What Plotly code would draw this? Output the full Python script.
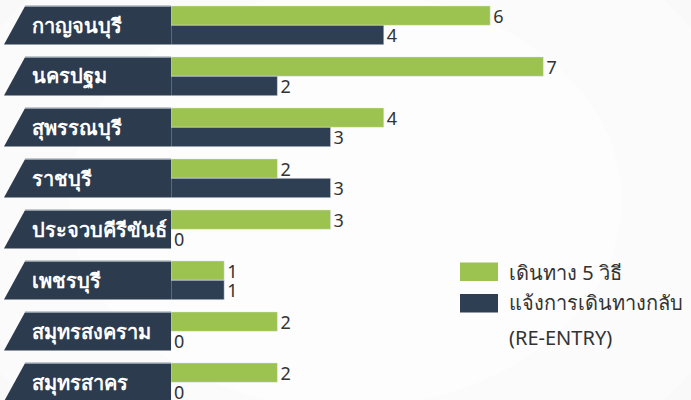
import plotly.graph_objects as go

provinces = ["กาญจนบุรี", "นครปฐม", "สุพรรณบุรี", "ราชบุรี",
             "ประจวบคีรีขันธ์", "เพชรบุรี", "สมุทรสงคราม", "สมุทรสาคร"]
travel_5 = [6, 7, 4, 2, 3, 1, 2, 2]
re_entry = [4, 2, 3, 3, 0, 1, 0, 0]
series_names = ["เดินทาง 5 วิธี", "แจ้งการเดินทางกลับ<br>(RE-ENTRY)"]

W, H = 691, 400
GREEN = "#9cc24f"
DARK = "#2e3f53"
FONT = "Noto Sans, Open Sans, sans-serif"

def px(x):
    return x / W

def py(y):
    return 1 - y / H

fig = go.Figure()
fig.add_trace(go.Bar(y=provinces, x=travel_5, orientation="h", name=series_names[0],
                     marker=dict(color=GREEN), texttemplate="%{x}", textposition="outside",
                     textfont=dict(size=18, color="#333333", family=FONT),
                     constraintext="none", cliponaxis=False, showlegend=False))
fig.add_trace(go.Bar(y=provinces, x=re_entry, orientation="h", name=series_names[1],
                     marker=dict(color=DARK), texttemplate="%{x}", textposition="outside",
                     textfont=dict(size=18, color="#333333", family=FONT),
                     constraintext="none", cliponaxis=False, showlegend=False))

shapes = []
annotations = []
# soft background glow
for r, c in [(1.0, "#f6f6f6"), (0.8, "#f9f9f9"), (0.6, "#fbfbfb"), (0.4, "#fdfdfd")]:
    shapes.append(dict(type="circle", xref="paper", yref="paper", layer="below",
                       x0=0.5 - r, x1=0.5 + r, y0=0.5 - r * 1.3, y1=0.5 + r * 1.3,
                       fillcolor=c, line=dict(width=0)))

for i, name in enumerate(provinces):
    top, bot = i - 0.375, i + 0.375
    shapes.append(dict(type="path", xref="paper", yref="y", layer="above",
                       path=f"M {px(4)},{bot} L {px(25)},{top} L {px(171)},{top} L {px(171)},{bot} Z",
                       fillcolor="#2c3b4e", line=dict(width=0)))
    shapes.append(dict(type="line", xref="paper", yref="y", layer="above",
                       x0=px(25), x1=px(171), y0=top, y1=top,
                       line=dict(color="#8d98a5", width=1.5)))
    annotations.append(dict(x=px(30), y=i, xref="paper", yref="y", text=f"<b>{name}</b>",
                            showarrow=False, xanchor="left", yanchor="middle",
                            font=dict(size=20, color="white", family=FONT)))

# legend (custom, lines spaced like the reference)
legend_items = [(GREEN, 262.5, series_names[0], [272]),
                (DARK, 294, series_names[1], [302, 337])]
for color, y0, label, centers in legend_items:
    shapes.append(dict(type="rect", xref="paper", yref="paper",
                       x0=px(460), x1=px(498), y0=py(y0), y1=py(y0 + 18.5),
                       fillcolor=color, line=dict(width=0)))
    for line_text, cy in zip(label.split("<br>"), centers):
        annotations.append(dict(x=px(507), y=py(cy), xref="paper", yref="paper", text=line_text,
                                showarrow=False, xanchor="left", yanchor="middle", align="left",
                                font=dict(size=20, color="#333333", family=FONT)))

fig.update_layout(
    width=W, height=H, margin=dict(l=0, r=0, t=0, b=0),
    paper_bgcolor="#f2f2f2", plot_bgcolor="rgba(0,0,0,0)",
    barmode="group", bargap=0.24, bargroupgap=0,
    xaxis=dict(domain=[px(171), 1], range=[0, 520 / 53.2], visible=False, fixedrange=True),
    yaxis=dict(type="category", range=[(H - 25.3) / 51, -25.3 / 51], visible=False),
    shapes=shapes, annotations=annotations, showlegend=False,
)
fig.write_html("out.html", config={"displayModeBar": False},
               post_script="document.body.style.margin='0px';document.body.style.overflow='hidden';")
